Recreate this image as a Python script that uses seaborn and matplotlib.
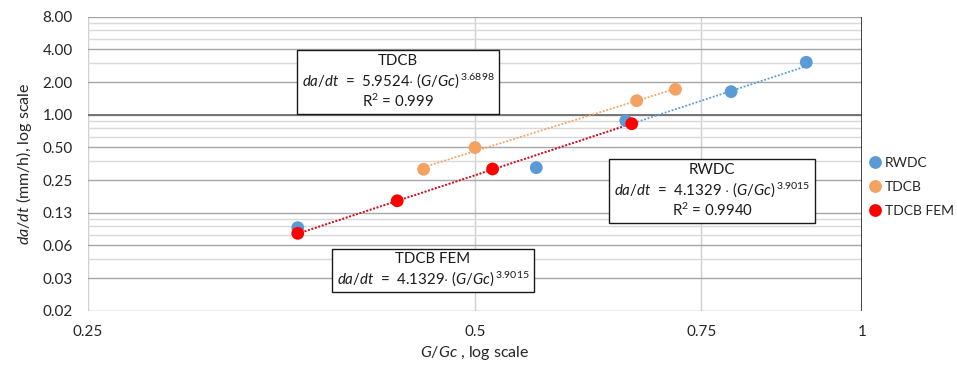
import numpy as np
import pandas as pd
import matplotlib
matplotlib.use("Agg")
import matplotlib.pyplot as plt
import matplotlib.ticker as mticker
import seaborn as sns

# ---- data ----
rwdc_x = [0.364, 0.558, 0.655, 0.791, 0.905]
rwdc_y = [0.091, 0.325, 0.881, 1.63, 3.04]
tdcb_x = [0.456, 0.500, 0.668, 0.716]
tdcb_y = [0.314, 0.498, 1.346, 1.715]
fem_x = [0.364, 0.435, 0.516, 0.662]
fem_y = [0.0807, 0.161, 0.316, 0.826]

series_names = ["RWDC", "TDCB", "TDCB FEM"]
fit_a = {"RWDC": 4.1329, "TDCB": 5.9524, "TDCB FEM": 4.1329}
fit_b = {"RWDC": 3.9015, "TDCB": 3.6898, "TDCB FEM": 3.9015}

x_ticks = [0.25, 0.5, 0.75, 1]
x_tick_labels = ["0.25", "0.5", "0.75", "1"]
y_ticks = [2.0 ** k for k in range(-6, 4)]
y_tick_labels = ["0.02", "0.03", "0.06", "0.13", "0.25", "0.50", "1.00", "2.00", "4.00", "8.00"]

df = pd.DataFrame({
    "x": rwdc_x + tdcb_x + fem_x,
    "y": rwdc_y + tdcb_y + fem_y,
    "series": ["RWDC"] * len(rwdc_x) + ["TDCB"] * len(tdcb_x) + ["TDCB FEM"] * len(fem_x),
})

colors = {"RWDC": "#5B9BD5", "TDCB": "#F4A261", "TDCB FEM": "#FF0000"}

sns.set_style("white")
plt.rcParams["font.family"] = ["Lato", "DejaVu Sans"]
plt.rcParams["mathtext.fontset"] = "custom"
plt.rcParams["mathtext.rm"] = "Lato"
plt.rcParams["mathtext.it"] = "Lato:italic"
plt.rcParams["mathtext.bf"] = "Lato:bold"

fig = plt.figure(figsize=(9.57, 3.65), dpi=100)
ax = fig.add_axes([88 / 957, 1 - 310.7 / 365, (862 - 88) / 957, (310.7 - 16.7) / 365])

ax.set_xscale("log", base=2)
ax.set_yscale("log", base=2)
ax.set_xlim(0.25, 1)
ax.set_ylim(2.0 ** -6, 8)

# gridlines
ax.yaxis.set_major_locator(mticker.FixedLocator(y_ticks))
ax.yaxis.set_major_formatter(mticker.FixedFormatter(y_tick_labels))
ax.yaxis.set_minor_locator(mticker.LogLocator(base=8, subs=[3, 5, 6, 7]))
ax.yaxis.set_minor_formatter(mticker.NullFormatter())
ax.xaxis.set_major_locator(mticker.FixedLocator(x_ticks))
ax.xaxis.set_major_formatter(mticker.FixedFormatter(x_tick_labels))
ax.xaxis.set_minor_locator(mticker.NullLocator())
ax.grid(True, which="major", axis="y", color="#A6A6A6", linewidth=1.0)
ax.grid(True, which="minor", axis="y", color="#D9D9D9", linewidth=1.0)
ax.grid(True, which="major", axis="x", color="#D0D0D0", linewidth=1.0)
ax.set_axisbelow(True)
for s in ax.spines.values():
    s.set_visible(False)
ax.axhline(1.0, color="#6E6E6E", linewidth=1.3, zorder=1.5)
ax.axvline(1.0, color="#262626", linewidth=1.2, zorder=1.5)
ax.tick_params(axis="both", which="both", length=0, labelsize=11, colors="#262626")
ax.tick_params(axis="y", pad=11)
ax.tick_params(axis="x", pad=10)

# trendlines
for name in series_names:
    sub = df[df.series == name]
    xs = np.geomspace(sub.x.min(), sub.x.max(), 50)
    ax.plot(xs, fit_a[name] * xs ** fit_b[name], linestyle=(0, (1, 1)),
            color=colors[name], linewidth=1.3, zorder=2)

sns.scatterplot(data=df, x="x", y="y", hue="series", palette=colors,
                hue_order=series_names, s=85, edgecolor="none", ax=ax,
                zorder=3, legend=True)

ax.set_xlabel(r"$\mathit{G/Gc}$ , log scale", fontsize=11.5, color="#262626", labelpad=4)
ax.set_ylabel(r"$\mathit{da/dt}$ (mm/h), log scale", fontsize=11.5, color="#262626", labelpad=6)

leg = ax.legend(loc="center left", bbox_to_anchor=(871 / 957, 1 - 187 / 365),
                bbox_transform=fig.transFigure, frameon=False, fontsize=10,
                handlelength=0.6, handletextpad=0.4, labelspacing=0.85,
                markerscale=1.0, borderaxespad=0, borderpad=0)
for t in leg.get_texts():
    t.set_color("#262626")

box = dict(boxstyle="square,pad=0.3", facecolor="white", edgecolor="#1a1a1a", linewidth=1.0)
txt_tdcb = ("TDCB\n" r"$\mathit{da/dt}$  =  5.9524$\cdot$ ($\mathit{G/Gc}$)$^{\,3.6898}$" "\n"
            r"R$^2$ = 0.999")
txt_rwdc = ("RWDC\n" r"$\mathit{da/dt}$  =  4.1329 $\cdot$ ($\mathit{G/Gc}$)$^{\,3.9015}$" "\n"
            r"R$^2$ = 0.9940")
txt_fem = ("TDCB FEM\n" r"$\mathit{da/dt}$  =  4.1329$\cdot$ ($\mathit{G/Gc}$)$^{\,3.9015}$")
for txt, cx, cy in [(txt_tdcb, 398, 82), (txt_rwdc, 712, 191), (txt_fem, 433, 270)]:
    fig.text(cx / 957, 1 - cy / 365, txt, ha="center", va="center", multialignment="center",
             fontsize=10.8, color="#1a1a1a", bbox=box, linespacing=1.2, zorder=5)

fig.savefig("out.png", dpi=100)
